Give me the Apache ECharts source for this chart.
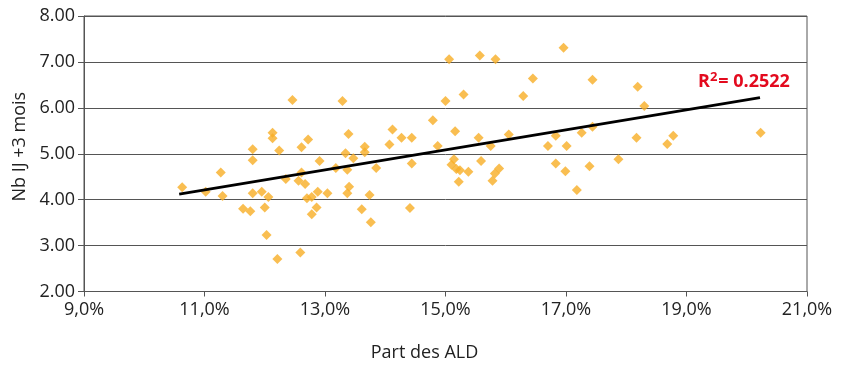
<!DOCTYPE html>
<html>
<head>
<meta charset="utf-8">
<script src="https://cdn.jsdelivr.net/npm/echarts@6/dist/echarts.min.js"></script>
<style>html,body{margin:0;padding:0;background:#fff}#c{width:849px;height:365px}</style>
</head>
<body>
<div id="c"></div>
<script>
// Part des ALD (%)
var partALD = [10.63,11.02,11.27,11.30,11.64,11.76,11.80,11.80,11.80,11.95,12.00,12.03,12.06,12.13,12.13,12.21,12.24,12.35,12.46,12.56,12.59,12.61,12.61,12.67,12.70,12.72,12.78,12.78,12.86,12.88,12.91,13.04,13.18,13.29,13.34,13.37,13.37,13.39,13.40,13.47,13.61,13.66,13.66,13.74,13.76,13.85,14.07,14.12,14.27,14.41,14.44,14.44,14.79,14.87,15.00,15.06,15.10,15.14,15.16,15.18,15.22,15.24,15.30,15.38,15.55,15.57,15.59,15.75,15.78,15.82,15.83,15.89,16.05,16.29,16.45,16.70,16.83,16.83,16.96,16.99,17.01,17.18,17.26,17.39,17.44,17.44,17.87,18.17,18.19,18.30,18.68,18.78,20.23];
// Nb IJ +3 mois
var nbIJ = [4.27,4.17,4.59,4.08,3.80,3.75,5.10,4.86,4.14,4.17,3.83,3.23,4.06,5.46,5.34,2.71,5.07,4.45,6.17,4.41,2.85,5.14,4.59,4.34,4.03,5.31,4.06,3.68,3.83,4.17,4.84,4.14,4.69,6.15,5.01,4.65,4.14,5.43,4.28,4.90,3.79,5.15,5.03,4.10,3.51,4.69,5.20,5.53,5.35,3.82,5.35,4.79,5.73,5.17,6.15,7.06,4.76,4.88,5.49,4.67,4.39,4.64,6.29,4.61,5.35,7.14,4.84,5.17,4.41,4.57,7.06,4.68,5.42,6.26,6.64,5.17,5.39,4.79,7.31,4.62,5.17,4.21,5.46,4.73,6.61,5.59,4.88,5.35,6.46,6.04,5.21,5.39,5.46];
// Trend line endpoints
var trendX = [10.58, 20.22];
var trendY = [4.12, 6.22];
var r2Text = '0.2522';
var xTicks = {min: 9, max: 21, interval: 2};
var yTicks = {min: 2, max: 8, interval: 1};

var pts = partALD.map(function(x, i){ return [x, nbIJ[i]]; });
var trend = trendX.map(function(x, i){ return [x, trendY[i]]; });

var FONT = 'Open Sans';
var chart = echarts.init(document.getElementById('c'), null, {renderer: 'canvas'});
chart.setOption({
  animation: false,
  backgroundColor: '#fff',
  grid: {left: 84, right: 42, top: 16, bottom: 73.5, containLabel: false, outerBoundsMode: 'none',
         show: true, borderColor: '#555', borderWidth: 1},
  xAxis: {
    type: 'value', min: xTicks.min, max: xTicks.max, interval: xTicks.interval,
    name: 'Part des ALD', nameLocation: 'middle', nameGap: 52,
    nameTextStyle: {fontFamily: FONT, fontSize: 18, color: '#222', padding: [0, 42, 0, 0]},
    axisLine: {show: true, lineStyle: {color: '#555', width: 1}},
    axisTick: {show: true, length: 5, lineStyle: {color: '#555'}},
    splitLine: {show: false},
    axisLabel: {fontFamily: FONT, fontSize: 18, color: '#222', margin: 9,
      formatter: function(v){ return v.toFixed(1).replace('.', ',') + '%'; }}
  },
  yAxis: {
    type: 'value', min: yTicks.min, max: yTicks.max, interval: yTicks.interval,
    name: 'Nb IJ +3 mois', nameLocation: 'middle', nameGap: 55, nameRotate: 90,
    nameTextStyle: {fontFamily: FONT, fontSize: 18, color: '#222', padding: [0, 0, 0, 14]},
    axisLine: {show: true, lineStyle: {color: '#555', width: 1}},
    axisTick: {show: true, length: 6, lineStyle: {color: '#555'}},
    splitLine: {show: true, lineStyle: {color: '#555', width: 1}},
    axisLabel: {fontFamily: FONT, fontSize: 18, color: '#222', margin: 9,
      formatter: function(v){ return v.toFixed(2); }}
  },
  series: [
    {
      type: 'scatter', data: pts, symbol: 'diamond', symbolSize: 10,
      itemStyle: {color: '#F8AE25'}, z: 3
    },
    {
      type: 'line', data: trend, symbol: 'none', z: 4,
      lineStyle: {color: '#000', width: 2.8},
      endLabel: {
        show: true, offset: [-70, -16],
        formatter: '{a|R}{s|2}{a|= ' + r2Text + '}',
        rich: {
          a: {fontFamily: FONT, fontSize: 18, fontWeight: 'bold', color: '#E30A1E'},
          s: {fontFamily: FONT, fontSize: 13, fontWeight: 'bold', color: '#E30A1E', verticalAlign: 'top', padding: [0, 1, 9, 0]}
        }
      }
    }
  ]
});
</script>
</body>
</html>
